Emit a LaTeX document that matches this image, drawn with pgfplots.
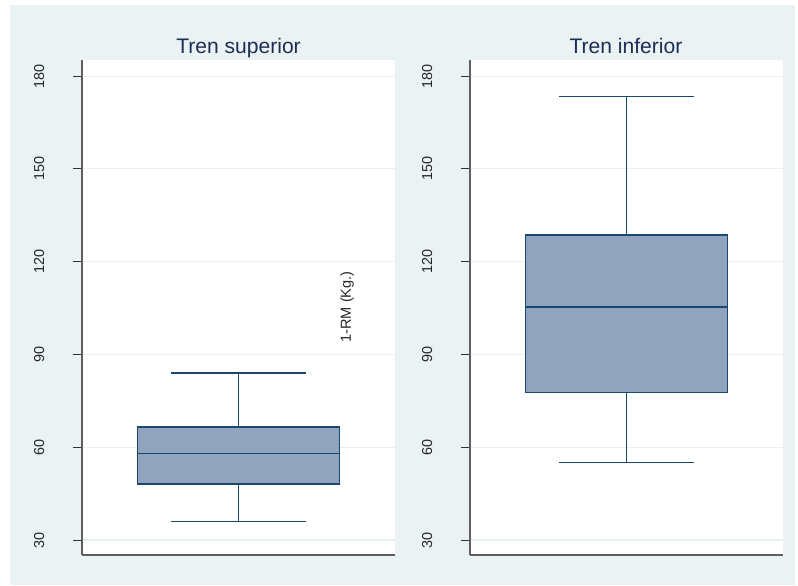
\documentclass[border=0pt]{standalone}
\usepackage{fontspec}
\setmainfont{Liberation Sans}
\usepackage{pgfplots}
\pgfplotsset{compat=1.18}
\definecolor{bg}{RGB}{234,242,243}
\definecolor{navy}{RGB}{26,71,111}
\definecolor{boxfill}{RGB}{145,164,189}
\definecolor{titlec}{RGB}{30,45,84}
\definecolor{axisc}{RGB}{95,95,95}
\definecolor{gridc}{RGB}{232,240,242}
\pgfplotsset{panel/.style={
  width=234.75pt, height=371.25pt, scale only axis,
  xmin=0, xmax=2, ymin=25.15, ymax=185.2,
  axis lines*=left,
  axis line style={axisc, line width=0.9pt},
  xtick=\empty,
  ytick={30,60,90,120,150,180},
  tick align=outside, major tick length=6.75pt,
  tick style={black!80, line width=0.6pt},
  ymajorgrids, grid style={gridc, line width=0.8pt},
  axis background/.style={fill=white},
  /pgf/number format/assume math mode=true,
  yticklabel style={rotate=90, anchor=south, yshift=18pt, font=\fontsize{10.8}{12}\selectfont, text=black!85},
  clip=false,
  boxs/.style={draw=navy, fill=boxfill, line width=1pt, mark=none},
  wsk/.style={draw=navy, line width=1pt, mark=none},
}}
% box: lower whisker, lower quartile, median, upper quartile, upper whisker
\begin{document}
\begin{tikzpicture}
\fill[white] (0pt,0pt) rectangle (598.5pt,438.75pt);
\fill[bg] (7.5pt,0pt) rectangle (596.25pt,435pt);
\begin{axis}[panel, at={(61.5pt,22.5pt)}, anchor=south west]
\addplot[wsk] coordinates {(1,66.5) (1,84.0)};
\addplot[wsk] coordinates {(1,48.1) (1,36.0)};
\addplot[wsk] coordinates {(0.569,84.0) (1.431,84.0)};
\addplot[wsk] coordinates {(0.569,36.0) (1.431,36.0)};
\addplot[boxs] coordinates {(0.356,48.1) (1.644,48.1) (1.644,66.5) (0.356,66.5)} --cycle;
\addplot[wsk] coordinates {(0.356,58.0) (1.644,58.0)};
\end{axis}
\begin{axis}[panel, at={(352.5pt,22.5pt)}, anchor=south west]
\addplot[wsk] coordinates {(1,128.6) (1,173.5)};
\addplot[wsk] coordinates {(1,77.6) (1,55.0)};
\addplot[wsk] coordinates {(0.569,173.5) (1.431,173.5)};
\addplot[wsk] coordinates {(0.569,55.0) (1.431,55.0)};
\addplot[boxs] coordinates {(0.356,77.6) (1.644,77.6) (1.644,128.6) (0.356,128.6)} --cycle;
\addplot[wsk] coordinates {(0.356,105.3) (1.644,105.3)};
\end{axis}
\node[anchor=base, text=titlec, font=\fontsize{15.8}{18}\selectfont, inner sep=0] at (178.9pt,398.25pt) {Tren superior};
\node[anchor=base, text=titlec, font=\fontsize{15.8}{18}\selectfont, inner sep=0] at (469.5pt,398.25pt) {Tren inferior};
\node[rotate=90, text=black!85, font=\fontsize{10.9}{12}\selectfont, inner sep=0] at (260.25pt,208.5pt) {1-RM (Kg.)};
\end{tikzpicture}
\end{document}
